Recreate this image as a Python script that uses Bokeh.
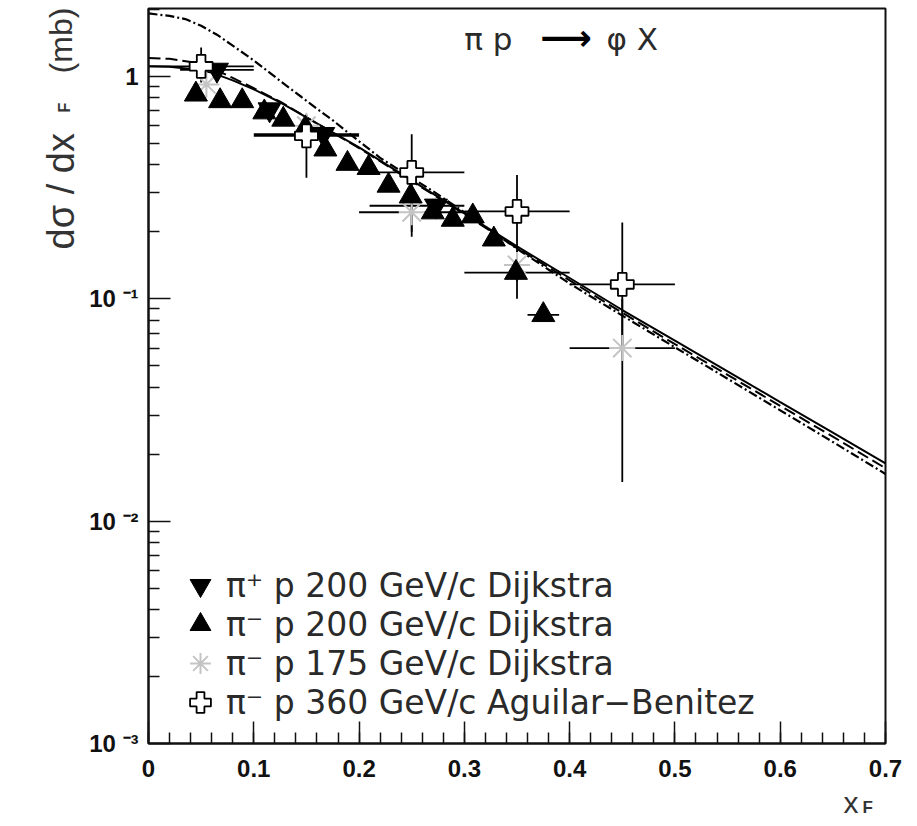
import math
from bokeh.plotting import figure
from bokeh.models import (FixedTicker, Label, Legend, LegendItem, Range1d)
from bokeh.embed import file_html
from bokeh.resources import INLINE

# ---------------- data ----------------
# theory curves
curve_x = [0.0, 0.02, 0.04, 0.06, 0.08, 0.10, 0.125, 0.15, 0.175, 0.20, 0.25, 0.30,
           0.35, 0.40, 0.45, 0.50, 0.55, 0.60, 0.65, 0.70]
solid_y = [1.11, 1.105, 1.08, 1.04, 0.96, 0.875, 0.765, 0.655, 0.56, 0.48, 0.341, 0.242,
           0.172, 0.124, 0.089, 0.0648, 0.0472, 0.0343, 0.025, 0.0182]
dashed_y = [1.21, 1.20, 1.16, 1.09, 0.985, 0.885, 0.77, 0.655, 0.558, 0.476, 0.338, 0.24,
            0.169, 0.121, 0.0865, 0.0625, 0.0455, 0.033, 0.024, 0.0173]
dashdot_x = [0.0, 0.02, 0.035, 0.05, 0.065, 0.08, 0.10, 0.115, 0.13, 0.145, 0.16, 0.175,
             0.19, 0.205, 0.22, 0.235, 0.25, 0.27, 0.30, 0.35, 0.40, 0.45, 0.50, 0.55,
             0.60, 0.65, 0.70]
dashdot_y = [1.92, 1.87, 1.81, 1.69, 1.54, 1.375, 1.18, 1.04, 0.915, 0.81, 0.715, 0.635,
             0.556, 0.49, 0.43, 0.388, 0.35, 0.305, 0.245, 0.168, 0.117, 0.084, 0.0605,
             0.0437, 0.0315, 0.0227, 0.0163]

# pi+ p 200 GeV/c Dijkstra (inverted triangles)
pip200_x = [0.065, 0.115, 0.166, 0.273]
pip200_y = [1.07, 0.71, 0.55, 0.262]
pip200_xlo = [0.03, 0.115, 0.10, 0.21]
pip200_xhi = [0.10, 0.115, 0.20, 0.30]

# pi- p 200 GeV/c Dijkstra (triangles)
pim200_x = [0.045, 0.068, 0.089, 0.110, 0.128, 0.149, 0.168, 0.189, 0.209, 0.228,
            0.249, 0.270, 0.289, 0.308, 0.328, 0.349, 0.375]
pim200_y = [0.83, 0.775, 0.775, 0.69, 0.64, 0.585, 0.47, 0.405, 0.388, 0.323,
            0.289, 0.245, 0.227, 0.235, 0.185, 0.131, 0.0846]
pim200_xlo = [0.045, 0.068, 0.089, 0.110, 0.128, 0.149, 0.168, 0.189, 0.209, 0.228,
              0.249, 0.270, 0.289, 0.308, 0.328, 0.30, 0.36]
pim200_xhi = [0.045, 0.068, 0.089, 0.110, 0.128, 0.149, 0.168, 0.189, 0.209, 0.228,
              0.249, 0.270, 0.289, 0.308, 0.328, 0.40, 0.39]

# pi- p 175 GeV/c Dijkstra (asterisks)
pim175_x = [0.055, 0.15, 0.25, 0.35, 0.45]
pim175_y = [0.92, 0.60, 0.245, 0.142, 0.060]
pim175_xlo = [0.055, 0.15, 0.20, 0.35, 0.40]
pim175_xhi = [0.055, 0.15, 0.30, 0.35, 0.50]
pim175_ylo = [0.92, 0.60, 0.20, 0.12, 0.015]
pim175_yhi = [0.92, 0.60, 0.30, 0.165, 0.10]

# pi- p 360 GeV/c Aguilar-Benitez (open crosses)
pim360_x = [0.05, 0.15, 0.25, 0.35, 0.45]
pim360_y = [1.11, 0.54, 0.37, 0.247, 0.116]
pim360_xlo = [0.0, 0.10, 0.20, 0.30, 0.40]
pim360_xhi = [0.10, 0.20, 0.30, 0.40, 0.50]
pim360_ylo = [0.94, 0.35, 0.19, 0.10, 0.06]
pim360_yhi = [1.35, 0.674, 0.55, 0.36, 0.22]

legend_labels = ["π⁺ p 200 GeV/c Dijkstra", "π⁻ p 200 GeV/c Dijkstra",
                 "π⁻ p 175 GeV/c Dijkstra", "π⁻ p 360 GeV/c Aguilar−Benitez"]

x_ticks = [0.0, 0.1, 0.2, 0.3, 0.4, 0.5, 0.6, 0.7]
x_tick_labels = ["0", "0.1", "0.2", "0.3", "0.4", "0.5", "0.6", "0.7"]
y_ticks = [0.001, 0.01, 0.1, 1.0]
y_tick_labels = ["10\u00a0⁻³", "10\u00a0⁻²", "10\u00a0⁻¹", "1"]

# ---------------- figure ----------------
p = figure(width=910, height=818, x_range=Range1d(0, 0.7), y_range=Range1d(0.001, 2.02),
           y_axis_type="log", output_backend="svg", toolbar_location=None,
           min_border_left=148, min_border_right=25, min_border_top=8, min_border_bottom=75)
p.grid.visible = False
p.outline_line_color = "#111111"
p.outline_line_width = 2
p.background_fill_color = "white"
p.border_fill_color = "white"

x_minor = [round(i * 0.02, 2) for i in range(0, 36)]
p.xaxis.ticker = FixedTicker(ticks=x_ticks, minor_ticks=x_minor)
p.xaxis.major_label_overrides = {t: s for t, s in zip(x_ticks, x_tick_labels)}
y_minor = [m * 10.0 ** e for e in (-3, -2, -1, 0) for m in range(2, 10) if m * 10.0 ** e < 2.02]
p.yaxis.ticker = FixedTicker(ticks=y_ticks, minor_ticks=y_minor)
p.yaxis.major_label_overrides = {t: s for t, s in zip(y_ticks, y_tick_labels)}

for ax in (p.xaxis[0], p.yaxis[0]):
    ax.axis_line_color = "#111111"
    ax.axis_line_width = 2
    ax.major_tick_in = 22
    ax.major_tick_out = 0
    ax.minor_tick_in = 11
    ax.minor_tick_out = 0
    ax.major_tick_line_width = 1.5
    ax.minor_tick_line_width = 1.5
    ax.major_tick_line_color = "#111111"
    ax.minor_tick_line_color = "#111111"
    ax.major_label_text_font = "Liberation Sans"
    ax.major_label_text_font_style = "bold"
    ax.major_label_text_font_size = "24px"
    ax.major_label_text_color = "#111111"
p.xaxis.major_label_standoff = 16
p.yaxis.major_label_standoff = 10

# curves
p.line(curve_x, solid_y, line_color="black", line_width=2)
p.line(curve_x, dashed_y, line_color="black", line_width=2, line_dash="12 5")
p.line(dashdot_x, dashdot_y, line_color="black", line_width=2.2, line_dash="9 3 2 3")

# error bars
def add_errors(xs, ys, xlo, xhi, ylo=None, yhi=None, gap=0.0):
    x0, y0, x1, y1 = [], [], [], []
    for i in range(len(xs)):
        if xhi[i] > xlo[i]:
            if gap > 0:
                x0 += [xlo[i], xs[i] + gap]
                x1 += [xs[i] - gap, xhi[i]]
                y0 += [ys[i], ys[i]]
                y1 += [ys[i], ys[i]]
            else:
                x0.append(xlo[i]); x1.append(xhi[i]); y0.append(ys[i]); y1.append(ys[i])
        if ylo is not None and yhi[i] > ylo[i]:
            x0.append(xs[i]); x1.append(xs[i]); y0.append(ylo[i]); y1.append(yhi[i])
    p.segment(x0=x0, y0=y0, x1=x1, y1=y1, line_color="black", line_width=1.8)

add_errors(pim175_x, pim175_y, pim175_xlo, pim175_xhi, pim175_ylo, pim175_yhi, gap=0.012)
add_errors(pim200_x, pim200_y, pim200_xlo, pim200_xhi)
add_errors(pip200_x, pip200_y, pip200_xlo, pip200_xhi)
add_errors(pim360_x, pim360_y, pim360_xlo, pim360_xhi, pim360_ylo, pim360_yhi)

r175 = p.scatter(pim175_x, pim175_y, marker="asterisk", size=26, line_color="#c4c4c4", line_width=2)
r200m = p.scatter(pim200_x, pim200_y, marker="triangle", size=23, fill_color="black", line_color="black")
r200p = p.scatter(pip200_x, pip200_y, marker="inverted_triangle", size=23, fill_color="black", line_color="black")
r360 = p.scatter(pim360_x, pim360_y, marker="plus", size=23, fill_color="white", line_color="black", line_width=1.8)

# legend: one Legend per row so that the rows can sit closer than the glyph box
row_bottoms = [132, 93, 54, 15]
for lab, rend, yb in zip(legend_labels, [r200p, r200m, r175, r360], row_bottoms):
    lg = Legend(items=[LegendItem(label=lab, renderers=[rend])],
                location=(26, yb), glyph_width=52, glyph_height=52, spacing=0,
                label_standoff=0, padding=0, margin=0,
                label_text_font="DejaVu Sans", label_text_font_size="33px",
                label_text_color="#2a2a2a",
                background_fill_alpha=0, border_line_alpha=0)
    p.add_layout(lg)

# y axis title (side panels, so it is not clipped by the frame)
ttl = dict(text_font="Liberation Sans", text_color="#333333", angle=math.pi / 2,
           text_align="left", text_baseline="alphabetic")
p.add_layout(Label(x=0, y=1.0, x_offset=-88, y_offset=-173, text="dσ / dx",
                   text_font_size="38px", **ttl), "left")
p.add_layout(Label(x=0, y=1.0, x_offset=-84, y_offset=-36, text="F",
                   text_font_size="16px", text_font_style="bold", **ttl), "below")
p.add_layout(Label(x=0, y=1.0, x_offset=-88, y_offset=3, text="(mb)",
                   text_font_size="32px", **ttl), "left")

# x axis title (right panel, so it is not clipped)
p.add_layout(Label(x=0.7, y=0.001, x_offset=-42, y_offset=-59, text="x",
                   text_font="Liberation Sans", text_font_size="30px", text_color="#333333",
                   text_align="left", text_baseline="alphabetic"), "right")
p.add_layout(Label(x=0.7, y=0.001, x_offset=-23, y_offset=-64, text="F",
                   text_font="Liberation Sans", text_font_size="17px", text_font_style="bold",
                   text_color="#333333", text_align="left", text_baseline="alphabetic"), "right")

# reaction label
p.add_layout(Label(x=0.30, y=1.0, y_offset=37, text="π p", text_font="DejaVu Sans",
                   text_font_size="31px", text_color="#2a2a2a", text_baseline="middle"))
p.add_layout(Label(x=0.372, y=1.0, y_offset=39, text="⟶", text_font="DejaVu Sans",
                   text_font_size="36px", text_font_style="bold", text_color="black",
                   text_baseline="middle"))
p.add_layout(Label(x=0.435, y=1.0, y_offset=37, text="φ X", text_font="DejaVu Sans",
                   text_font_size="31px", text_color="#2a2a2a", text_baseline="middle"))

open("out.html", "w").write(file_html(p, INLINE))
